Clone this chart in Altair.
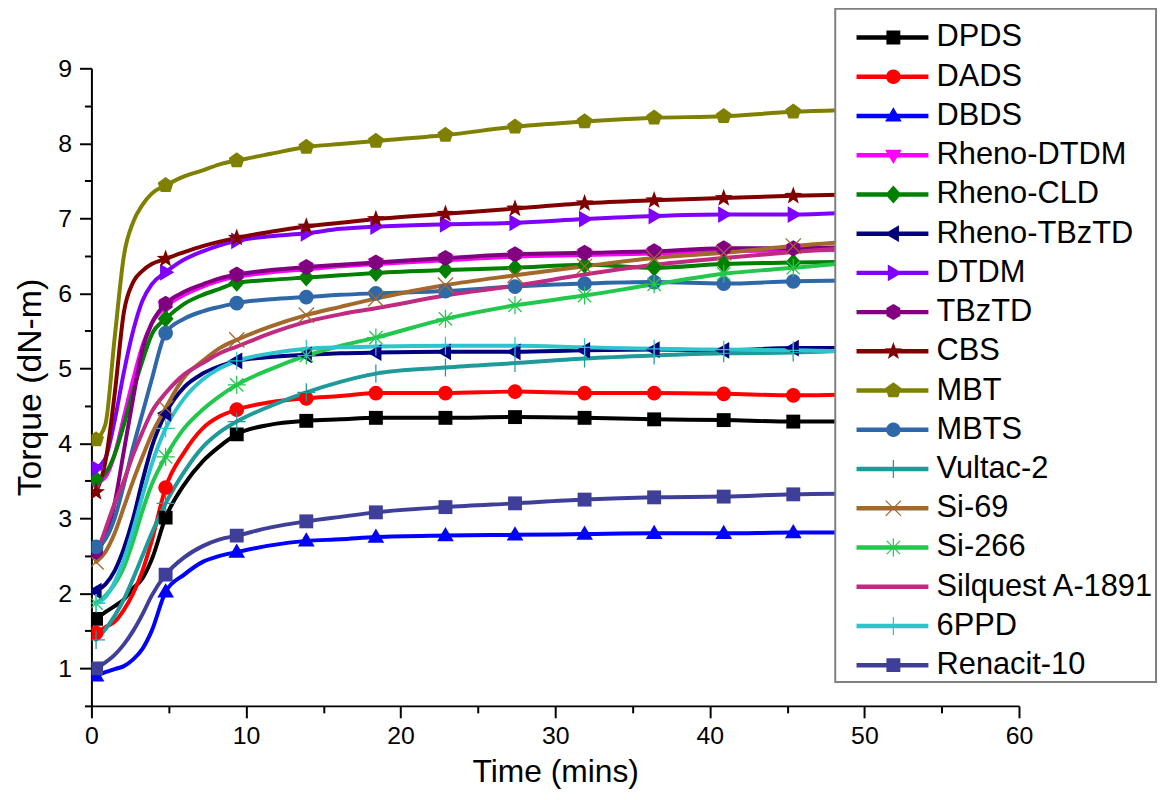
import math
import altair as alt
import pandas as pd

# ---------------- data ----------------
time = [0.3, 0.9, 1.5, 2.1, 2.7, 3.3, 3.9, 4.8, 6.0, 7.2, 8.3, 9.4, 11.6, 13.9,
        16.1, 18.4, 22.9, 27.4, 31.9, 36.4, 40.9, 45.4, 49.9, 54.4, 58.9, 60.0]
marker_times = [0.3, 4.8, 9.4, 13.9, 18.4, 22.9, 27.4, 31.9, 36.4, 40.9, 45.4, 49.9, 54.4, 58.9]

series = ["DPDS", "DADS", "DBDS", "Rheno-DTDM", "Rheno-CLD", "Rheno-TBzTD", "DTDM",
          "TBzTD", "CBS", "MBT", "MBTS", "Vultac-2", "Si-69", "Si-266",
          "Silquest A-1891", "6PPD", "Renacit-10"]

dpds = [1.66, 1.75, 1.83, 1.92, 2.07, 2.2, 2.45, 3.01, 3.45, 3.76, 3.96, 4.12, 4.25, 4.3, 4.32, 4.34, 4.34, 4.35, 4.34, 4.32, 4.31, 4.29, 4.29, 4.28, 4.28, 4.28]
dads = [1.47, 1.55, 1.62, 1.78, 2.0, 2.3, 2.7, 3.41, 3.88, 4.2, 4.36, 4.45, 4.55, 4.6, 4.63, 4.67, 4.67, 4.69, 4.67, 4.67, 4.66, 4.64, 4.65, 4.64, 4.64, 4.64]
dbds = [0.9, 0.95, 0.99, 1.03, 1.12, 1.26, 1.5, 2.02, 2.25, 2.42, 2.5, 2.55, 2.64, 2.7, 2.72, 2.75, 2.77, 2.78, 2.79, 2.8, 2.8, 2.81, 2.81, 2.82, 2.82, 2.82]
rheno_dtdm = [3.47, 3.55, 3.85, 4.35, 4.85, 5.3, 5.6, 5.82, 5.98, 6.09, 6.17, 6.22, 6.28, 6.32, 6.36, 6.39, 6.44, 6.49, 6.51, 6.53, 6.56, 6.57, 6.58, 6.59, 6.6, 6.6]
rheno_cld = [3.52, 3.6, 3.85, 4.25, 4.7, 5.1, 5.45, 5.66, 5.86, 5.98, 6.06, 6.14, 6.18, 6.21, 6.24, 6.27, 6.31, 6.34, 6.38, 6.34, 6.39, 6.41, 6.42, 6.43, 6.44, 6.44]
rheno_tbztd = [2.03, 2.12, 2.3, 2.6, 3.0, 3.5, 3.95, 4.4, 4.75, 4.93, 5.03, 5.1, 5.15, 5.18, 5.2, 5.21, 5.22, 5.22, 5.24, 5.25, 5.24, 5.27, 5.27, 5.27, 5.28, 5.28]
dtdm = [3.67, 3.8, 4.3, 4.95, 5.5, 5.9, 6.12, 6.28, 6.45, 6.56, 6.64, 6.7, 6.76, 6.8, 6.86, 6.89, 6.92, 6.94, 6.99, 7.03, 7.05, 7.05, 7.08, 7.1, 7.1, 7.1]
tbztd = [2.55, 2.75, 3.2, 3.9, 4.6, 5.25, 5.6, 5.86, 6.02, 6.12, 6.2, 6.25, 6.31, 6.35, 6.38, 6.41, 6.47, 6.52, 6.54, 6.56, 6.6, 6.6, 6.62, 6.63, 6.64, 6.64]
cbs = [3.35, 3.75, 4.65, 5.75, 6.15, 6.3, 6.39, 6.46, 6.55, 6.63, 6.69, 6.74, 6.82, 6.89, 6.94, 6.99, 7.06, 7.13, 7.2, 7.24, 7.27, 7.3, 7.32, 7.34, 7.36, 7.36]
mbt = [4.05, 4.25, 5.4, 6.5, 6.95, 7.18, 7.33, 7.44, 7.56, 7.64, 7.72, 7.77, 7.86, 7.95, 7.99, 8.03, 8.11, 8.22, 8.29, 8.34, 8.36, 8.42, 8.45, 8.48, 8.5, 8.5]
mbts = [2.62, 2.72, 3.0, 3.45, 3.95, 4.4, 4.85, 5.47, 5.66, 5.76, 5.82, 5.87, 5.92, 5.95, 5.98, 6.0, 6.03, 6.09, 6.13, 6.15, 6.13, 6.16, 6.17, 6.17, 6.18, 6.18]
vultac2 = [1.38, 1.52, 1.7, 1.92, 2.2, 2.5, 2.8, 3.2, 3.62, 3.95, 4.15, 4.29, 4.5, 4.68, 4.82, 4.93, 5.01, 5.07, 5.13, 5.17, 5.2, 5.21, 5.24, 5.26, 5.27, 5.27]
si69 = [2.42, 2.55, 2.8, 3.15, 3.5, 3.82, 4.12, 4.47, 4.88, 5.1, 5.27, 5.38, 5.56, 5.71, 5.82, 5.93, 6.11, 6.24, 6.36, 6.47, 6.54, 6.63, 6.7, 6.76, 6.82, 6.83]
si266 = [1.87, 1.97, 2.12, 2.35, 2.7, 3.1, 3.45, 3.82, 4.2, 4.45, 4.63, 4.78, 4.99, 5.17, 5.3, 5.41, 5.66, 5.84, 5.97, 6.12, 6.26, 6.34, 6.42, 6.48, 6.52, 6.53]
silquest = [2.5, 2.85, 3.2, 3.5, 3.85, 4.15, 4.42, 4.67, 4.92, 5.07, 5.2, 5.29, 5.47, 5.62, 5.72, 5.8, 5.97, 6.1, 6.25, 6.38, 6.47, 6.55, 6.62, 6.68, 6.73, 6.74]
ppd6 = [1.87, 1.95, 2.15, 2.45, 2.85, 3.3, 3.72, 4.2, 4.6, 4.85, 5.0, 5.1, 5.2, 5.26, 5.28, 5.29, 5.3, 5.3, 5.28, 5.26, 5.25, 5.24, 5.23, 5.23, 5.23, 5.23]
renacit10 = [1.0, 1.08, 1.18, 1.32, 1.5, 1.72, 1.97, 2.25, 2.48, 2.63, 2.72, 2.77, 2.88, 2.96, 3.02, 3.08, 3.15, 3.2, 3.25, 3.28, 3.29, 3.32, 3.33, 3.34, 3.35, 3.35]

values = [dpds, dads, dbds, rheno_dtdm, rheno_cld, rheno_tbztd, dtdm, tbztd, cbs, mbt,
          mbts, vultac2, si69, si266, silquest, ppd6, renacit10]

colors = ["#000000", "#FF0000", "#0000FF", "#FF00FF", "#008000", "#000080", "#8000FF",
          "#800080", "#800000", "#808000", "#2F68A8", "#1F9A9A", "#A3692B", "#22C84B",
          "#C02A80", "#2EC4CC", "#3F3F9A"]

marker_kind = ["square", "circle", "tri_up", "tri_down", "diamond", "tri_left", "tri_right",
               "hexagon", "star", "pentagon", "circle", "plus", "cross", "asterisk",
               "none", "plus", "square"]

# ---------------- marker geometry (unit = sqrt(size)/2 px) ----------------
def regular(n, r, start=-90):
    return [(r * math.cos(math.radians(start + 360 * k / n)),
             r * math.sin(math.radians(start + 360 * k / n))) for k in range(n)]

def star_pts(ro, ri):
    pts = []
    for k in range(10):
        r = ro if k % 2 == 0 else ri
        a = math.radians(-90 + 36 * k)
        pts.append((r * math.cos(a), r * math.sin(a)))
    return pts

def bar(x1, y1, x2, y2, w):
    dx, dy = x2 - x1, y2 - y1
    L = math.hypot(dx, dy)
    nx, ny = -dy / L * w, dx / L * w
    return [(x1 + nx, y1 + ny), (x2 + nx, y2 + ny), (x2 - nx, y2 - ny), (x1 - nx, y1 - ny)]

def oriented(p):
    a = sum(p[i][0] * p[(i + 1) % len(p)][1] - p[(i + 1) % len(p)][0] * p[i][1] for i in range(len(p)))
    return p if a > 0 else list(reversed(p))

TW = 0.09
shapes = {
    "square": [[(-1, -1), (1, -1), (1, 1), (-1, 1)]],
    "circle": [regular(24, 1.05)],
    "tri_up": [[(0, -1.25), (1.2, 0.8), (-1.2, 0.8)]],
    "tri_down": [[(0, 1.25), (1.2, -0.8), (-1.2, -0.8)]],
    "diamond": [[(0, -1.3), (1.15, 0), (0, 1.3), (-1.15, 0)]],
    "tri_left": [[(-1.25, 0), (0.8, -1.2), (0.8, 1.2)]],
    "tri_right": [[(1.25, 0), (-0.8, -1.2), (-0.8, 1.2)]],
    "hexagon": [regular(6, 1.15)],
    "star": [star_pts(1.35, 0.55)],
    "pentagon": [regular(5, 1.2)],
    "plus": [bar(0, -1.3, 0, 1.3, TW), bar(-1.3, 0, 1.3, 0, TW)],
    "cross": [bar(-1.1, -1.1, 1.1, 1.1, TW), bar(-1.1, 1.1, 1.1, -1.1, TW)],
    "asterisk": [bar(0, -1.3, 0, 1.3, TW), bar(-1.3, 0, 1.3, 0, TW),
                 bar(-0.95, -0.95, 0.95, 0.95, TW), bar(-0.95, 0.95, 0.95, -0.95, TW)],
    "none": [],
}

def path(polys, dx=0.0):
    out = ""
    for p in polys:
        p = oriented(p)
        out += "M" + "L".join(f"{x + dx:.3f},{y:.3f}" for x, y in p) + "Z"
    return out

# legend symbol: line segment + marker, offset to the right of the symbol origin
LEG_LINE = [(0.56, -0.32), (10.9, -0.32), (10.9, 0.32), (0.56, 0.32)]
LEG_MARK_DX = 5.86
legend_paths = [path([LEG_LINE]) + path(shapes[k], dx=LEG_MARK_DX) for k in marker_kind]

# ---------------- tables ----------------
rows = []
for name, vals in zip(series, values):
    for t, v in zip(time, vals):
        rows.append({"series": name, "time": t, "torque": v})
df = pd.DataFrame(rows)
df_mark = df[df["time"].isin(marker_times)]
df_leg = pd.DataFrame({"series": series, "time": [-50.0] * len(series), "torque": [5.0] * len(series)})

FONT = "Liberation Sans"
xscale = alt.Scale(domain=[0, 60], nice=False, zero=False)
yscale = alt.Scale(domain=[0.5, 9], nice=False, zero=False)
cscale = alt.Scale(domain=series, range=colors)

x_major = alt.Axis(values=[0, 10, 20, 30, 40, 50, 60], orient="bottom", title="Time (mins)",
                   tickSize=12, tickWidth=2, tickColor="black", domainColor="black", domainWidth=2,
                   labelFont=FONT, labelFontSize=25, labelColor="black", labelPadding=6,
                   labelFlush=False, format="d", grid=False,
                   titleFont=FONT, titleFontSize=32, titleFontWeight="normal", titleColor="black",
                   titlePadding=8)
y_major = alt.Axis(values=[1, 2, 3, 4, 5, 6, 7, 8, 9], orient="left", title="Torque (dN-m)",
                   tickSize=12, tickWidth=2, tickColor="black", domainColor="black", domainWidth=2,
                   labelFont=FONT, labelFontSize=25, labelColor="black", labelPadding=8,
                   format="d", grid=False,
                   titleFont=FONT, titleFontSize=34, titleFontWeight="normal", titleColor="black",
                   titlePadding=10)
x_minor = alt.Axis(values=[5, 15, 25, 35, 45, 55], orient="bottom", title=None, labels=False,
                   domain=False, tickSize=7, tickWidth=2, tickColor="black", grid=False)
y_minor = alt.Axis(values=[0.5, 1.5, 2.5, 3.5, 4.5, 5.5, 6.5, 7.5, 8.5], orient="left", title=None,
                   labels=False, domain=False, tickSize=7, tickWidth=2, tickColor="black", grid=False)

leg = alt.Legend(orient="none", legendX=749, legendY=-60, title="\u00a0", titleFontSize=8,
                 titlePadding=3.5, padding=2, fillColor="white", strokeColor="#808080",
                 labelFont=FONT, labelFontSize=31, labelColor="black", labelLimit=600,
                 labelOffset=69, symbolSize=196, rowPadding=7.5,
                 symbolStrokeWidth=0, direction="vertical")

# legend-carrying layer first so its legend settings win the merge
legend_layer = alt.Chart(df_leg).mark_point(filled=True, size=196, opacity=1, clip=True).encode(
    x=alt.X("time:Q", scale=xscale, axis=x_minor),
    y=alt.Y("torque:Q", scale=yscale, axis=y_minor),
    color=alt.Color("series:N", scale=cscale, legend=leg),
    shape=alt.Shape("series:N", scale=alt.Scale(domain=series, range=legend_paths), legend=leg),
)

lines = alt.Chart(df).mark_line(strokeWidth=4, interpolate="monotone", clip=True,
                                strokeCap="round", strokeJoin="round").encode(
    x=alt.X("time:Q", scale=xscale, axis=x_major),
    y=alt.Y("torque:Q", scale=yscale, axis=y_major),
    color=alt.Color("series:N", scale=cscale, legend=None),
    order=alt.Order("time:Q"),
)

point_layers = []
for name, kind, col in zip(series, marker_kind, colors):
    if kind == "none":
        continue
    point_layers.append(
        alt.Chart(df_mark[df_mark["series"] == name]).mark_point(
            shape=path(shapes[kind]), size=196, filled=True, color=col, opacity=1, clip=True
        ).encode(
            x=alt.X("time:Q", scale=xscale, axis=None),
            y=alt.Y("torque:Q", scale=yscale, axis=None),
        )
    )

chart = alt.layer(legend_layer, lines, *point_layers).resolve_axis(
    x="independent", y="independent"
).properties(
    width=934, height=642,
    autosize=alt.AutoSizeParams(type="none"),
    padding={"left": 84, "top": 58, "right": 143, "bottom": 84},
).configure(font=FONT).configure_view(stroke=None).configure_legend(strokeWidth=2)

chart.save("out.html", embed_options={"renderer": "svg", "actions": False})
